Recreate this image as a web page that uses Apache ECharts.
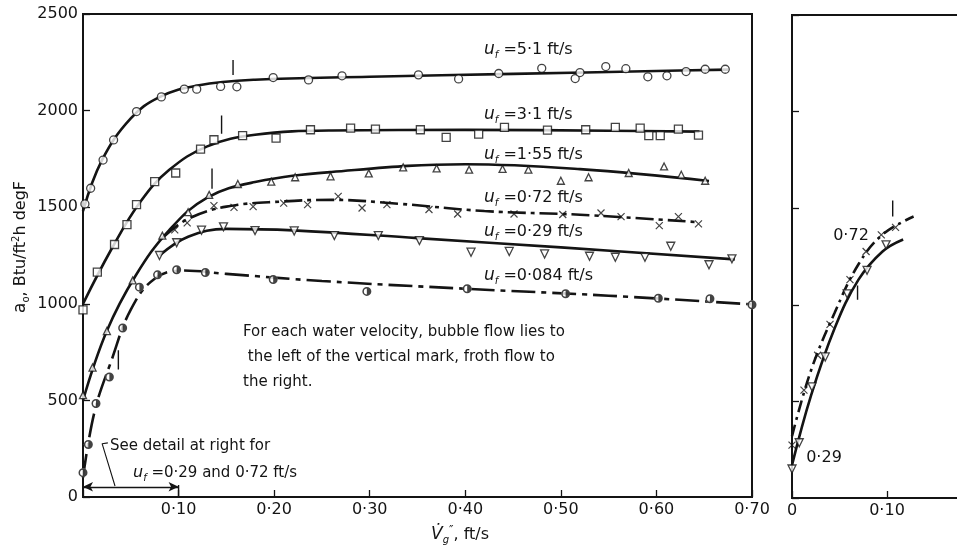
<!DOCTYPE html>
<html>
<head>
<meta charset="utf-8">
<script src="https://cdn.jsdelivr.net/npm/echarts@6/dist/echarts.min.js"></script>
<style>
  html, body { margin: 0; padding: 0; background: #fff; }
  #chart { width: 957px; height: 555px; }
</style>
</head>
<body>
<div id="chart"></div>
<script>
// Heat transfer coefficient vs superficial gas velocity, for several water velocities u_f.
// Each series: measured points [V, a_o] and the drawn fit curve through them.

const xTicksMain = [0, 0.1, 0.2, 0.3, 0.4, 0.5, 0.6, 0.7];
const yTicks = [0, 500, 1000, 1500, 2000, 2500];

// u_f = 5.1 ft/s (circles)
const pts51 = [[0.002,1517],[0.008,1598],[0.021,1744],[0.032,1848],[0.056,1995],[0.082,2071],[0.106,2111],[0.119,2111],[0.144,2125],[0.161,2123],[0.199,2171],[0.236,2159],[0.271,2180],[0.351,2185],[0.393,2164],[0.435,2192],[0.480,2219],[0.515,2166],[0.520,2197],[0.547,2228],[0.568,2217],[0.591,2175],[0.611,2180],[0.631,2202],[0.651,2214],[0.672,2214]];
const fit51 = [[0,1480],[0.02,1745],[0.05,1960],[0.08,2070],[0.12,2130],[0.18,2160],[0.3,2175],[0.45,2190],[0.6,2205],[0.675,2212]];

// u_f = 3.1 ft/s (squares)
const pts31 = [[0,969],[0.015,1164],[0.033,1307],[0.046,1410],[0.056,1513],[0.075,1632],[0.097,1677],[0.123,1801],[0.137,1849],[0.167,1870],[0.202,1858],[0.238,1901],[0.280,1909],[0.306,1904],[0.353,1901],[0.380,1861],[0.414,1878],[0.441,1913],[0.486,1899],[0.526,1901],[0.557,1913],[0.583,1909],[0.592,1870],[0.604,1870],[0.623,1904],[0.644,1873]];
const fit31 = [[0,1000],[0.03,1285],[0.06,1528],[0.09,1692],[0.13,1815],[0.18,1875],[0.26,1897],[0.4,1900],[0.55,1896],[0.645,1891]];

// u_f = 1.55 ft/s (triangles)
const pts155 = [[0,527],[0.010,670],[0.025,859],[0.052,1121],[0.083,1353],[0.110,1474],[0.132,1564],[0.162,1620],[0.197,1632],[0.222,1655],[0.259,1660],[0.299,1675],[0.335,1706],[0.370,1701],[0.404,1694],[0.439,1698],[0.466,1694],[0.500,1637],[0.529,1655],[0.571,1677],[0.608,1711],[0.626,1668],[0.651,1637]];
const fit155 = [[0,500],[0.025,860],[0.055,1145],[0.09,1380],[0.13,1550],[0.18,1630],[0.26,1682],[0.4,1722],[0.52,1697],[0.655,1636]];

// u_f = 0.72 ft/s (crosses)
const pts072 = [[0.096,1383],[0.109,1419],[0.137,1508],[0.158,1499],[0.178,1503],[0.210,1521],[0.235,1513],[0.267,1556],[0.292,1496],[0.318,1513],[0.362,1488],[0.392,1465],[0.451,1465],[0.502,1462],[0.542,1470],[0.563,1451],[0.603,1405],[0.623,1451],[0.644,1414]];
const fit072 = [[0.085,1350],[0.11,1440],[0.15,1503],[0.21,1530],[0.26,1538],[0.33,1518],[0.42,1480],[0.52,1461],[0.645,1422]];

// u_f = 0.29 ft/s (inverted triangles)
const pts029 = [[0.080,1250],[0.098,1316],[0.124,1381],[0.147,1398],[0.180,1379],[0.221,1377],[0.263,1353],[0.309,1353],[0.352,1327],[0.406,1267],[0.446,1271],[0.483,1258],[0.530,1246],[0.557,1241],[0.588,1241],[0.615,1298],[0.655,1202],[0.679,1233]];
const fit029 = [[0.08,1250],[0.11,1347],[0.15,1388],[0.22,1380],[0.35,1340],[0.5,1292],[0.682,1230]];

// u_f = 0.084 ft/s (half-filled circles)
const pts0084 = [[0,126],[0.0056,272],[0.0136,484],[0.0276,621],[0.0415,875],[0.059,1086],[0.078,1150],[0.098,1176],[0.128,1162],[0.199,1126],[0.297,1064],[0.402,1078],[0.505,1052],[0.602,1029],[0.656,1026],[0.70,995]];
const fit0084 = [[0,100],[0.012,440],[0.03,710],[0.05,970],[0.075,1130],[0.105,1172],[0.15,1155],[0.25,1118],[0.4,1078],[0.55,1042],[0.7,997]];

// Detail panel: low-velocity region for u_f = 0.72 and 0.29
const ins072 = [[0.0,274],[0.0126,558],[0.027,739],[0.040,899],[0.061,1130],[0.078,1276],[0.094,1362],[0.109,1401]];
const insFit072 = [[0,320],[0.02,660],[0.045,960],[0.07,1210],[0.095,1362],[0.128,1457]];
const ins029 = [[0,150],[0.0076,286],[0.021,575],[0.035,730],[0.058,1057],[0.079,1178],[0.099,1310]];
const insFit029 = [[0,170],[0.02,530],[0.045,880],[0.07,1130],[0.095,1275],[0.117,1338]];

// Bubble / froth transition marks: [V, a_o from, a_o to]
const transMain = [[0.157,2184,2262],[0.145,1880,1975],[0.135,1596,1700],[0.037,660,760]];
const transInset = [[0.069,1026,1100],[0.106,1457,1540]];

// "See detail" bracket under the main axis
const detailSpan = [0, 0.1];
const detailArrowY = 53;

const FONT = 'DejaVu Sans';
const INK = '#141414';

const fmtDot = v => v.toFixed(2).replace('.', '\u00b7');

function fitSeries(data, grid, dash) {
  return {
    type: 'line', xAxisIndex: grid, yAxisIndex: grid, data: data,
    smooth: 0.4, showSymbol: false, silent: true,
    lineStyle: { color: INK, width: 2.6, type: dash || 'solid' }, z: 2
  };
}
function pointSeries(data, grid, symbol, size, style) {
  return {
    type: 'scatter', xAxisIndex: grid, yAxisIndex: grid, data: data,
    symbol: symbol, symbolSize: size, silent: true,
    itemStyle: Object.assign({ color: '#fff', borderColor: INK, borderWidth: 1.3 }, style || {}), z: 4
  };
}
function segSeries(segs, grid) {
  return segs.map(s => ({
    type: 'line', xAxisIndex: grid, yAxisIndex: grid,
    data: [[s[0], s[1]], [s[0], s[2]]], showSymbol: false, silent: true,
    lineStyle: { color: INK, width: 1.4 }, z: 3
  }));
}

const CROSS = 'path://M0,0L10,10M10,0L0,10';
const TRI_DOWN = 'path://M0,0L10,0L5,9Z';
const HALF_DISC = 'path://M5,0A5,5 0 1 1 5,10A5,5 0 1 1 5,0ZM5,1.7A3.3,3.3 0 0 0 5,8.3Z';

function axisCommon() {
  return {
    axisLine: { show: true, onZero: false, lineStyle: { color: INK, width: 2 } },
    axisTick: { show: true, inside: true, length: 7, lineStyle: { color: INK, width: 1.3 } },
    splitLine: { show: false }
  };
}

const chart = echarts.init(document.getElementById('chart'), null, { renderer: 'canvas' });

const uLabel = (val, x, y) => ({
  type: 'text', x: x, y: y,
  style: {
    text: '{u|u}{f|f}{t| =' + val + ' ft/s}',
    verticalAlign: 'middle', align: 'left', fill: INK,
    rich: {
      u: { fontFamily: FONT, fontSize: 17, fontStyle: 'italic', lineHeight: 20, fill: INK },
      f: { fontFamily: FONT, fontSize: 10, fontStyle: 'italic', lineHeight: 9, verticalAlign: 'bottom', fill: INK },
      t: { fontFamily: FONT, fontSize: 16, lineHeight: 20, fill: INK }
    }
  }, z: 10
});

const option = {
  backgroundColor: '#fff',
  animation: false,
  grid: [
    { left: 83, top: 14, width: 669, height: 483, show: true, borderColor: INK, borderWidth: 2, backgroundColor: 'transparent', outerBoundsMode: 'none' },
    { left: 792, top: 15, width: 190, height: 483, show: true, borderColor: INK, borderWidth: 2, backgroundColor: 'transparent', outerBoundsMode: 'none' }
  ],
  xAxis: [
    Object.assign(axisCommon(), {
      type: 'value', gridIndex: 0, min: xTicksMain[0], max: xTicksMain[xTicksMain.length - 1], interval: 0.1,
      axisLabel: { formatter: v => v === 0 ? '' : fmtDot(v), color: INK, fontFamily: FONT, fontSize: 16, margin: 5, showMaxLabel: true }
    }),
    Object.assign(axisCommon(), {
      type: 'value', gridIndex: 1, min: 0, max: 0.2, interval: 0.1,
      axisLabel: { formatter: v => v === 0 ? '0' : (Math.abs(v - 0.1) < 1e-9 ? fmtDot(v) : ''), color: INK, fontFamily: FONT, fontSize: 16, margin: 5 }
    })
  ],
  yAxis: [
    Object.assign(axisCommon(), {
      type: 'value', gridIndex: 0, min: yTicks[0], max: yTicks[yTicks.length - 1], interval: 500,
      axisLabel: { formatter: v => String(v), color: INK, fontFamily: FONT, fontSize: 16, margin: 5, showMaxLabel: true }
    }),
    Object.assign(axisCommon(), {
      type: 'value', gridIndex: 1, min: 0, max: 2500, interval: 500,
      axisLabel: { show: false }
    })
  ],
  series: [
    fitSeries(fit51, 0), fitSeries(fit31, 0), fitSeries(fit155, 0),
    fitSeries(fit072, 0, [18, 5, 4, 5]), fitSeries(fit029, 0), fitSeries(fit0084, 0, [24, 6, 5, 6]),
    fitSeries(insFit072, 1, [12, 5, 3, 5]), fitSeries(insFit029, 1),

    pointSeries(pts51, 0, 'circle', 8),
    pointSeries(pts31, 0, 'rect', 8),
    pointSeries(pts155, 0, 'triangle', 7),
    pointSeries(pts072, 0, CROSS, 7, { color: 'none', borderWidth: 1.2 }),
    pointSeries(pts029, 0, TRI_DOWN, 8),
    pointSeries(pts0084, 0, 'circle', 9, { borderWidth: 0 }),
    pointSeries(pts0084, 0, HALF_DISC, 9, { color: INK, borderWidth: 0 }),
    pointSeries(ins072, 1, CROSS, 7, { color: 'none', borderWidth: 1.2 }),
    pointSeries(ins029, 1, TRI_DOWN, 8),

    ...segSeries(transMain, 0),
    ...segSeries(transInset, 1),

    // bracket showing the range covered by the detail panel
    {
      type: 'line', xAxisIndex: 0, yAxisIndex: 0, silent: true, showSymbol: false,
      data: [[detailSpan[1], 0], [detailSpan[1], 62]],
      lineStyle: { color: INK, width: 1.4 }, z: 3,
      markLine: {
        silent: true, symbol: ['arrow', 'arrow'], symbolSize: [7, 10],
        label: { show: false },
        lineStyle: { color: INK, width: 1.3, type: 'solid' },
        data: [[{ coord: [detailSpan[0], detailArrowY] }, { coord: [detailSpan[1], detailArrowY] }]]
      }
    },
    {
      type: 'line', xAxisIndex: 0, yAxisIndex: 0, silent: true, showSymbol: false,
      data: [[0.026, 280], [0.020, 276], [0.0335, 57]],
      lineStyle: { color: INK, width: 1.1 }, z: 3
    }
  ],
  graphic: [
    uLabel('5\u00b71', 484, 50),
    uLabel('3\u00b71', 484, 115),
    uLabel('1\u00b755', 484, 155),
    uLabel('0\u00b772', 484, 198),
    uLabel('0\u00b729', 484, 232),
    uLabel('0\u00b7084', 484, 276),
    {
      type: 'text', x: 243, y: 320,
      style: {
        text: 'For each water velocity, bubble flow lies to\n the left of the vertical mark, froth flow to\nthe right.',
        fontFamily: FONT, fontSize: 15, lineHeight: 25, fill: INK, align: 'left', verticalAlign: 'top'
      }, z: 10
    },
    {
      type: 'text', x: 110, y: 446,
      style: { text: 'See detail at right for', fontFamily: FONT, fontSize: 15, fill: INK, align: 'left', verticalAlign: 'middle' }, z: 10
    },
    {
      type: 'text', x: 133, y: 473,
      style: {
        text: '{u|u}{f|f}{t| =0\u00b729 and 0\u00b772 ft/s}',
        align: 'left', verticalAlign: 'middle', fill: INK,
        rich: {
          u: { fontFamily: FONT, fontSize: 16, fontStyle: 'italic', lineHeight: 20, fill: INK },
          f: { fontFamily: FONT, fontSize: 10, fontStyle: 'italic', lineHeight: 9, verticalAlign: 'bottom', fill: INK },
          t: { fontFamily: FONT, fontSize: 15, lineHeight: 20, fill: INK }
        }
      }, z: 10
    },
    {
      type: 'text', x: 851, y: 236,
      style: { text: '0\u00b772', fontFamily: FONT, fontSize: 16, fill: INK, align: 'center', verticalAlign: 'middle' }, z: 10
    },
    {
      type: 'text', x: 824, y: 458,
      style: { text: '0\u00b729', fontFamily: FONT, fontSize: 16, fill: INK, align: 'center', verticalAlign: 'middle' }, z: 10
    },
    {
      type: 'text', x: 21, y: 247, rotation: Math.PI / 2,
      style: {
        text: '{a|a}{o|o}{t|, Btu/ft}{s|2}{t|h degF}',
        align: 'center', verticalAlign: 'middle', fill: INK,
        rich: {
          a: { fontFamily: FONT, fontSize: 17, lineHeight: 20, fill: INK },
          o: { fontFamily: FONT, fontSize: 10, lineHeight: 9, verticalAlign: 'bottom', fill: INK },
          t: { fontFamily: FONT, fontSize: 16, lineHeight: 20, fill: INK },
          s: { fontFamily: FONT, fontSize: 10, lineHeight: 9, verticalAlign: 'top', fill: INK }
        }
      }, z: 10
    },
    {
      type: 'text', x: 460, y: 535,
      style: {
        text: '{v|V\u0307}{g|g}{p|\u2033}{t|, ft/s}',
        align: 'center', verticalAlign: 'middle', fill: INK,
        rich: {
          v: { fontFamily: FONT, fontSize: 17, fontStyle: 'italic', lineHeight: 20, fill: INK },
          g: { fontFamily: FONT, fontSize: 10, fontStyle: 'italic', lineHeight: 9, verticalAlign: 'bottom', fill: INK },
          p: { fontFamily: FONT, fontSize: 12, lineHeight: 9, verticalAlign: 'top', fill: INK },
          t: { fontFamily: FONT, fontSize: 16, lineHeight: 20, fill: INK }
        }
      }, z: 10
    }
  ]
};

chart.setOption(option);
</script>
</body>
</html>
